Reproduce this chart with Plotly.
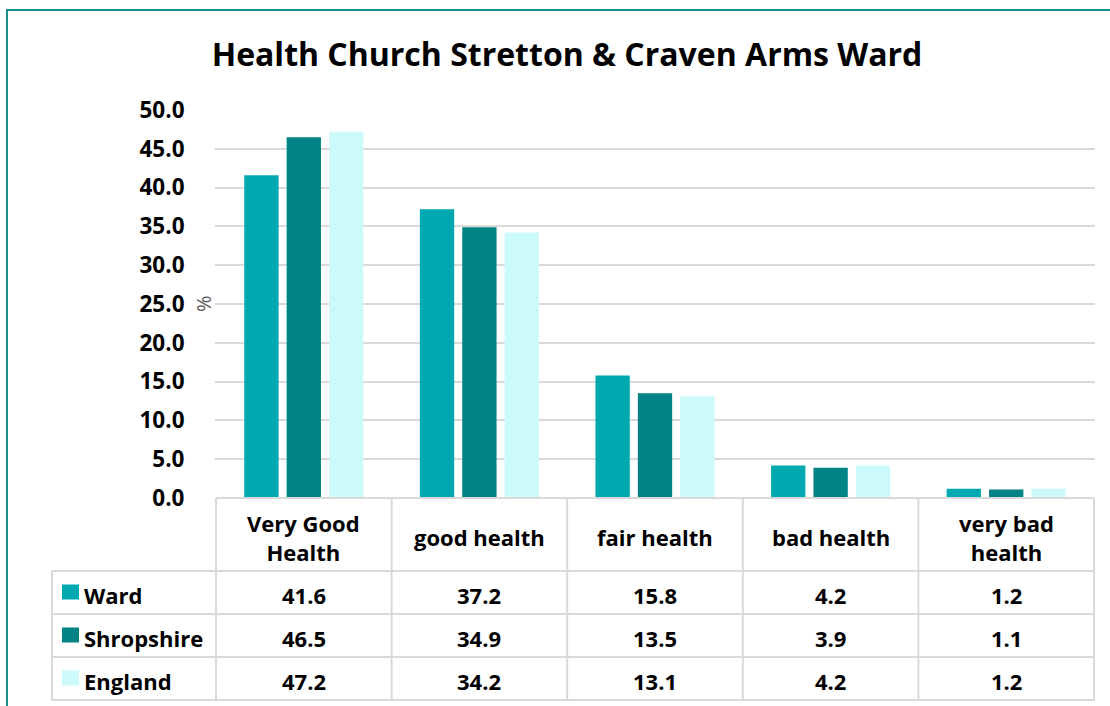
import plotly.graph_objects as go

categories = ["Very Good Health", "good health", "fair health", "bad health", "very bad health"]
header_labels = ["Very Good<br>Health", "good health", "fair health", "bad health", "very bad<br>health"]
series_names = ["Ward", "Shropshire", "England"]
ward = [41.6, 37.2, 15.8, 4.2, 1.2]
shropshire = [46.5, 34.9, 13.5, 3.9, 1.1]
england = [47.2, 34.2, 13.1, 4.2, 1.2]
y_ticks = [0, 5, 10, 15, 20, 25, 30, 35, 40, 45, 50]

colors = ["#00A9AF", "#008385", "#CCFAFB"]
values = [ward, shropshire, england]

W, H = 1110, 706
ML, MR, MT, MB = 215, 15, 110, 208
PH = H - MT - MB
PW = W - ML - MR
FONT = "Open Sans"
TFS = 22
GRID = "#D9D9D9"

def py(p):
    return (H - MB - p) / PH

def px(p):
    return (p - ML) / PW

fig = go.Figure()
for name, vals, c in zip(series_names, values, colors):
    fig.add_trace(go.Bar(x=categories, y=vals, name=name, marker=dict(color=c, line=dict(width=0)),
                         showlegend=False))

shapes = []
annotations = []

shapes.append(dict(type="rect", xref="paper", yref="paper", x0=px(7), x1=px(1125), y0=py(10), y1=py(720),
                   line=dict(color="#17908F", width=2), layer="below"))

row_tops = [498, 571, 614, 657, 700]
shapes.append(dict(type="line", xref="x", yref="paper", x0=-0.5, x1=4.5, y0=py(row_tops[0]), y1=py(row_tops[0]),
                   line=dict(color=GRID, width=2)))
for r in row_tops[1:]:
    shapes.append(dict(type="line", xref="paper", yref="paper", x0=px(52), x1=1, y0=py(r), y1=py(r),
                       line=dict(color=GRID, width=2)))
for i in range(len(categories) + 1):
    shapes.append(dict(type="line", xref="x", yref="paper", x0=i - 0.5, x1=i - 0.5, y0=py(498), y1=py(700),
                       line=dict(color=GRID, width=2)))
shapes.append(dict(type="line", xref="paper", yref="paper", x0=px(52), x1=px(52), y0=py(571), y1=py(700),
                   line=dict(color=GRID, width=2)))

for i, lab in enumerate(header_labels):
    annotations.append(dict(x=categories[i], xref="x", y=py(537), yref="paper", text="<b>%s</b>" % lab,
                            showarrow=False, font=dict(family=FONT, size=TFS, color="#000000"), align="center",
                            xanchor="center", yanchor="middle"))

for ri, (name, vals, c) in enumerate(zip(series_names, values, colors)):
    ymid = (row_tops[ri + 1] + row_tops[ri + 2]) / 2
    shapes.append(dict(type="rect", xref="paper", yref="paper", x0=px(62), x1=px(79), y0=py(ymid - 8), y1=py(ymid + 7),
                       fillcolor=c, line=dict(width=0)))
    annotations.append(dict(x=px(82), xref="paper", y=py(ymid + 2), yref="paper", text="<b>%s</b>" % name,
                            showarrow=False, xanchor="left", yanchor="middle",
                            font=dict(family=FONT, size=TFS, color="#000000")))
    for i, v in enumerate(vals):
        annotations.append(dict(x=categories[i], xref="x", y=py(ymid + 2), yref="paper", text="<b>%.1f</b>" % v,
                                showarrow=False, xanchor="center", yanchor="middle",
                                font=dict(family=FONT, size=TFS, color="#000000")))

annotations.append(dict(x=px(203), xref="paper", y=25, yref="y", text="%", textangle=-90, showarrow=False,
                        xanchor="center", yanchor="middle", font=dict(family=FONT, size=20, color="#595959")))

fig.update_layout(
    width=W, height=H,
    margin=dict(l=ML, r=MR, t=MT, b=MB),
    paper_bgcolor="white", plot_bgcolor="white",
    title=dict(text="<b>Health Church Stretton & Craven Arms Ward</b>", x=567 / W, xanchor="center",
               y=1 - 55 / H, yanchor="middle", font=dict(family=FONT, size=32, color="#000000")),
    barmode="group", bargap=0.276, bargroupgap=0.19,
    xaxis=dict(showticklabels=False, showgrid=False, zeroline=False, showline=False, ticks=""),
    yaxis=dict(range=[0, 50], tickvals=y_ticks, ticktext=["<b>%.1f</b>" % t for t in y_ticks],
               tickfont=dict(family=FONT, size=22.5, color="#000000"), showgrid=True, gridcolor=GRID,
               gridwidth=2, zeroline=False, showline=False, ticks="outside", ticklen=25,
               tickcolor="rgba(0,0,0,0)"),
    shapes=shapes, annotations=annotations,
)

fig.write_html("out.html", config={"displayModeBar": False},
               post_script="document.body.style.margin='0px';document.body.style.overflow='hidden';")
